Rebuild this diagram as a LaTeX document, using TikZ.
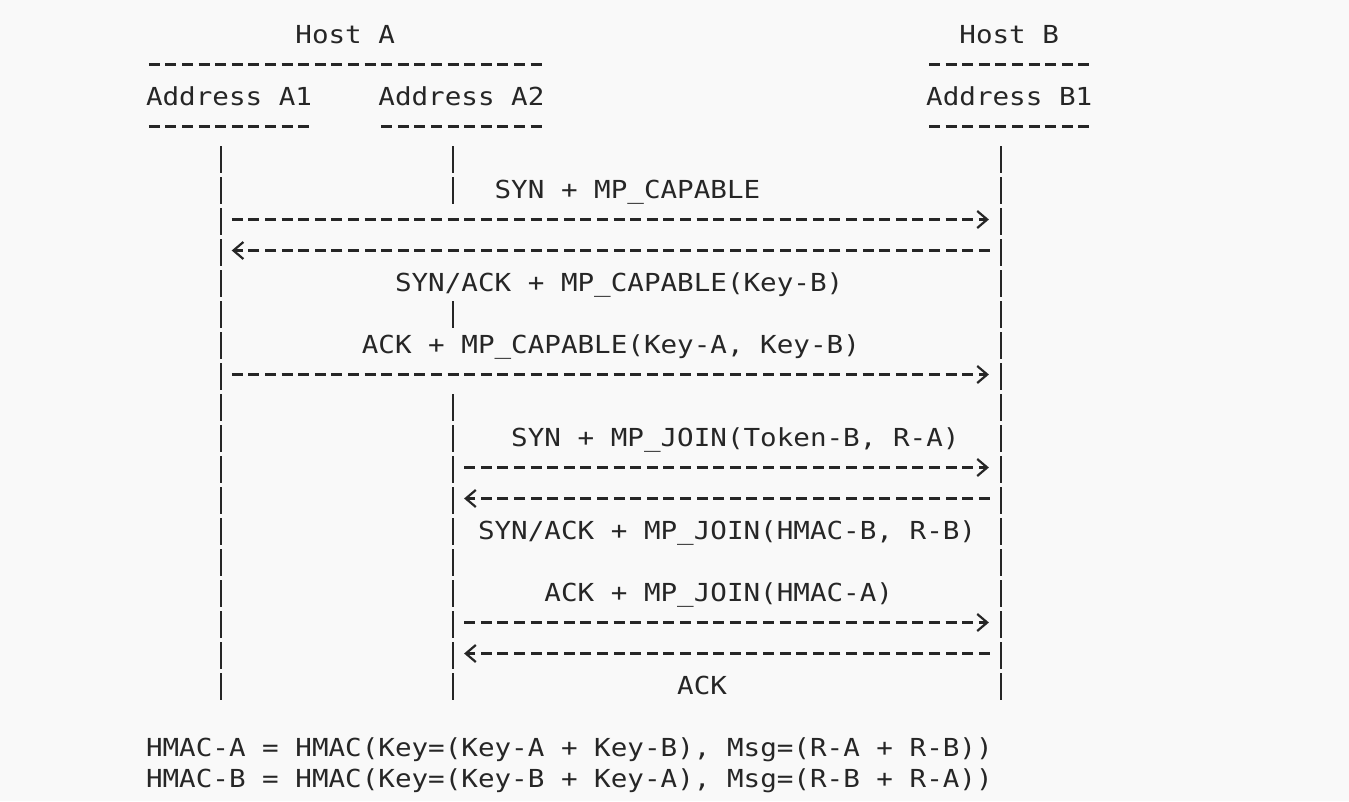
\documentclass[tikz,border=0pt]{standalone}
\usepackage{fontspec}
\usetikzlibrary{arrows.meta}
\newfontfamily\asciifont{DejaVu Sans Mono}[FakeStretch=1.112]
\definecolor{ink}{HTML}{262626}
\definecolor{paper}{HTML}{F9F9F9}

\begin{document}
\begin{tikzpicture}[x=1pt, y=-1pt,
	lbl/.style={anchor=base west, inner sep=0pt, outer sep=0pt, text=ink, font=\asciifont\fontsize{24.8}{31}\selectfont},
	lifeline/.style={draw=ink, line width=2.3pt, dash pattern=on 27pt off 4pt},
	hyphens/.style={draw=ink, line width=2.2pt, dash pattern=on 11pt off 5.6pt, shorten <=2.8pt, shorten >=2.8pt},
	msgto/.style={draw=ink, line width=2.2pt, dash pattern=on 11pt off 5.6pt, shorten <=11.1pt, shorten >=12pt, -{Straight Barb[length=10pt, width=17pt, line width=2.2pt]}},
	msgfrom/.style={msgto, shorten >=11pt}]
	\fill[paper] (0,0) rectangle (1349,801);
	% headers
	\node[lbl] (hostA) at (295.4,43.5) {Host A};
	\node[lbl] (hostB) at (959.4,43.5) {Host B};
	\node[lbl] (addrA1) at (146,105.5) {Address A1};
	\node[lbl] (addrA2) at (378.4,105.5) {Address A2};
	\node[lbl] (addrB1) at (926.2,105.5) {Address B1};
	\draw[hyphens] ([yshift=41pt]addrA1.base west) -- ([yshift=41pt]addrA2.base east);
	\draw[hyphens] ([yshift=41pt]addrB1.base west) -- ([yshift=41pt]addrB1.base east);
	\draw[hyphens] ([yshift=-21pt]addrA1.base west) -- ([yshift=-21pt]addrA1.base east);
	\draw[hyphens] ([yshift=-21pt]addrA2.base west) -- ([yshift=-21pt]addrA2.base east);
	\draw[hyphens] ([yshift=-21pt]addrB1.base west) -- ([yshift=-21pt]addrB1.base east);
	% lifelines
	\coordinate (a1top) at (220.7,146);
	\coordinate (a1bot) at (220.7,700);
	\coordinate (a2top) at (453.1,146);
	\coordinate (btop) at (1000.9,146);
	\coordinate (bbot) at (1000.9,700);
	\draw[lifeline] (a1top) -- (a1bot);
	\draw[lifeline] (btop) -- (bbot);
	\draw[lifeline] (a2top) -- ++(0,58) (a2top) ++(0,155) -- ++(0,27) (a2top) ++(0,248) -- (a2top |- a1bot);
	% message rows
	\coordinate (r6) at (0,219.5);
	\coordinate (r7) at (0,250.5);
	\coordinate (r11) at (0,374.5);
	\coordinate (r14) at (0,467.5);
	\coordinate (r15) at (0,498.5);
	\coordinate (r19) at (0,622.5);
	\coordinate (r20) at (0,653.5);
	\draw[msgto] (a1top |- r6) -- (btop |- r6);
	\draw[msgfrom] (btop |- r7) -- (a1top |- r7);
	\draw[msgto] (a1top |- r11) -- (btop |- r11);
	\draw[msgto] (a2top |- r14) -- (btop |- r14);
	\draw[msgfrom] (btop |- r15) -- (a2top |- r15);
	\draw[msgto] (a2top |- r19) -- (btop |- r19);
	\draw[msgfrom] (btop |- r20) -- (a2top |- r20);
	% labels
	\node[lbl] (synA) at (494.6,198.5) {SYN + MP\_CAPABLE};
	\node[lbl] (synackA) at (395,291.5) {SYN/ACK + MP\_CAPABLE(Key-B)};
	\node[lbl] (ackA) at (361.8,353.5) {ACK + MP\_CAPABLE(Key-A, Key-B)};
	\node[lbl] (synJ) at (511.2,446.5) {SYN + MP\_JOIN(Token-B, R-A)};
	\node[lbl] (synackJ) at (478,539.5) {SYN/ACK + MP\_JOIN(HMAC-B, R-B)};
	\node[lbl] (ackJ) at (544.4,601.5) {ACK + MP\_JOIN(HMAC-A)};
	\node[lbl] (ackL) at (677.2,694.5) {ACK};
	\node[lbl] (hmacA) at (146,756.5) {HMAC-A = HMAC(Key=(Key-A + Key-B), Msg=(R-A + R-B))};
	\node[lbl] (hmacB) at (146,787.5) {HMAC-B = HMAC(Key=(Key-B + Key-A), Msg=(R-B + R-A))};
\end{tikzpicture}
\end{document}
